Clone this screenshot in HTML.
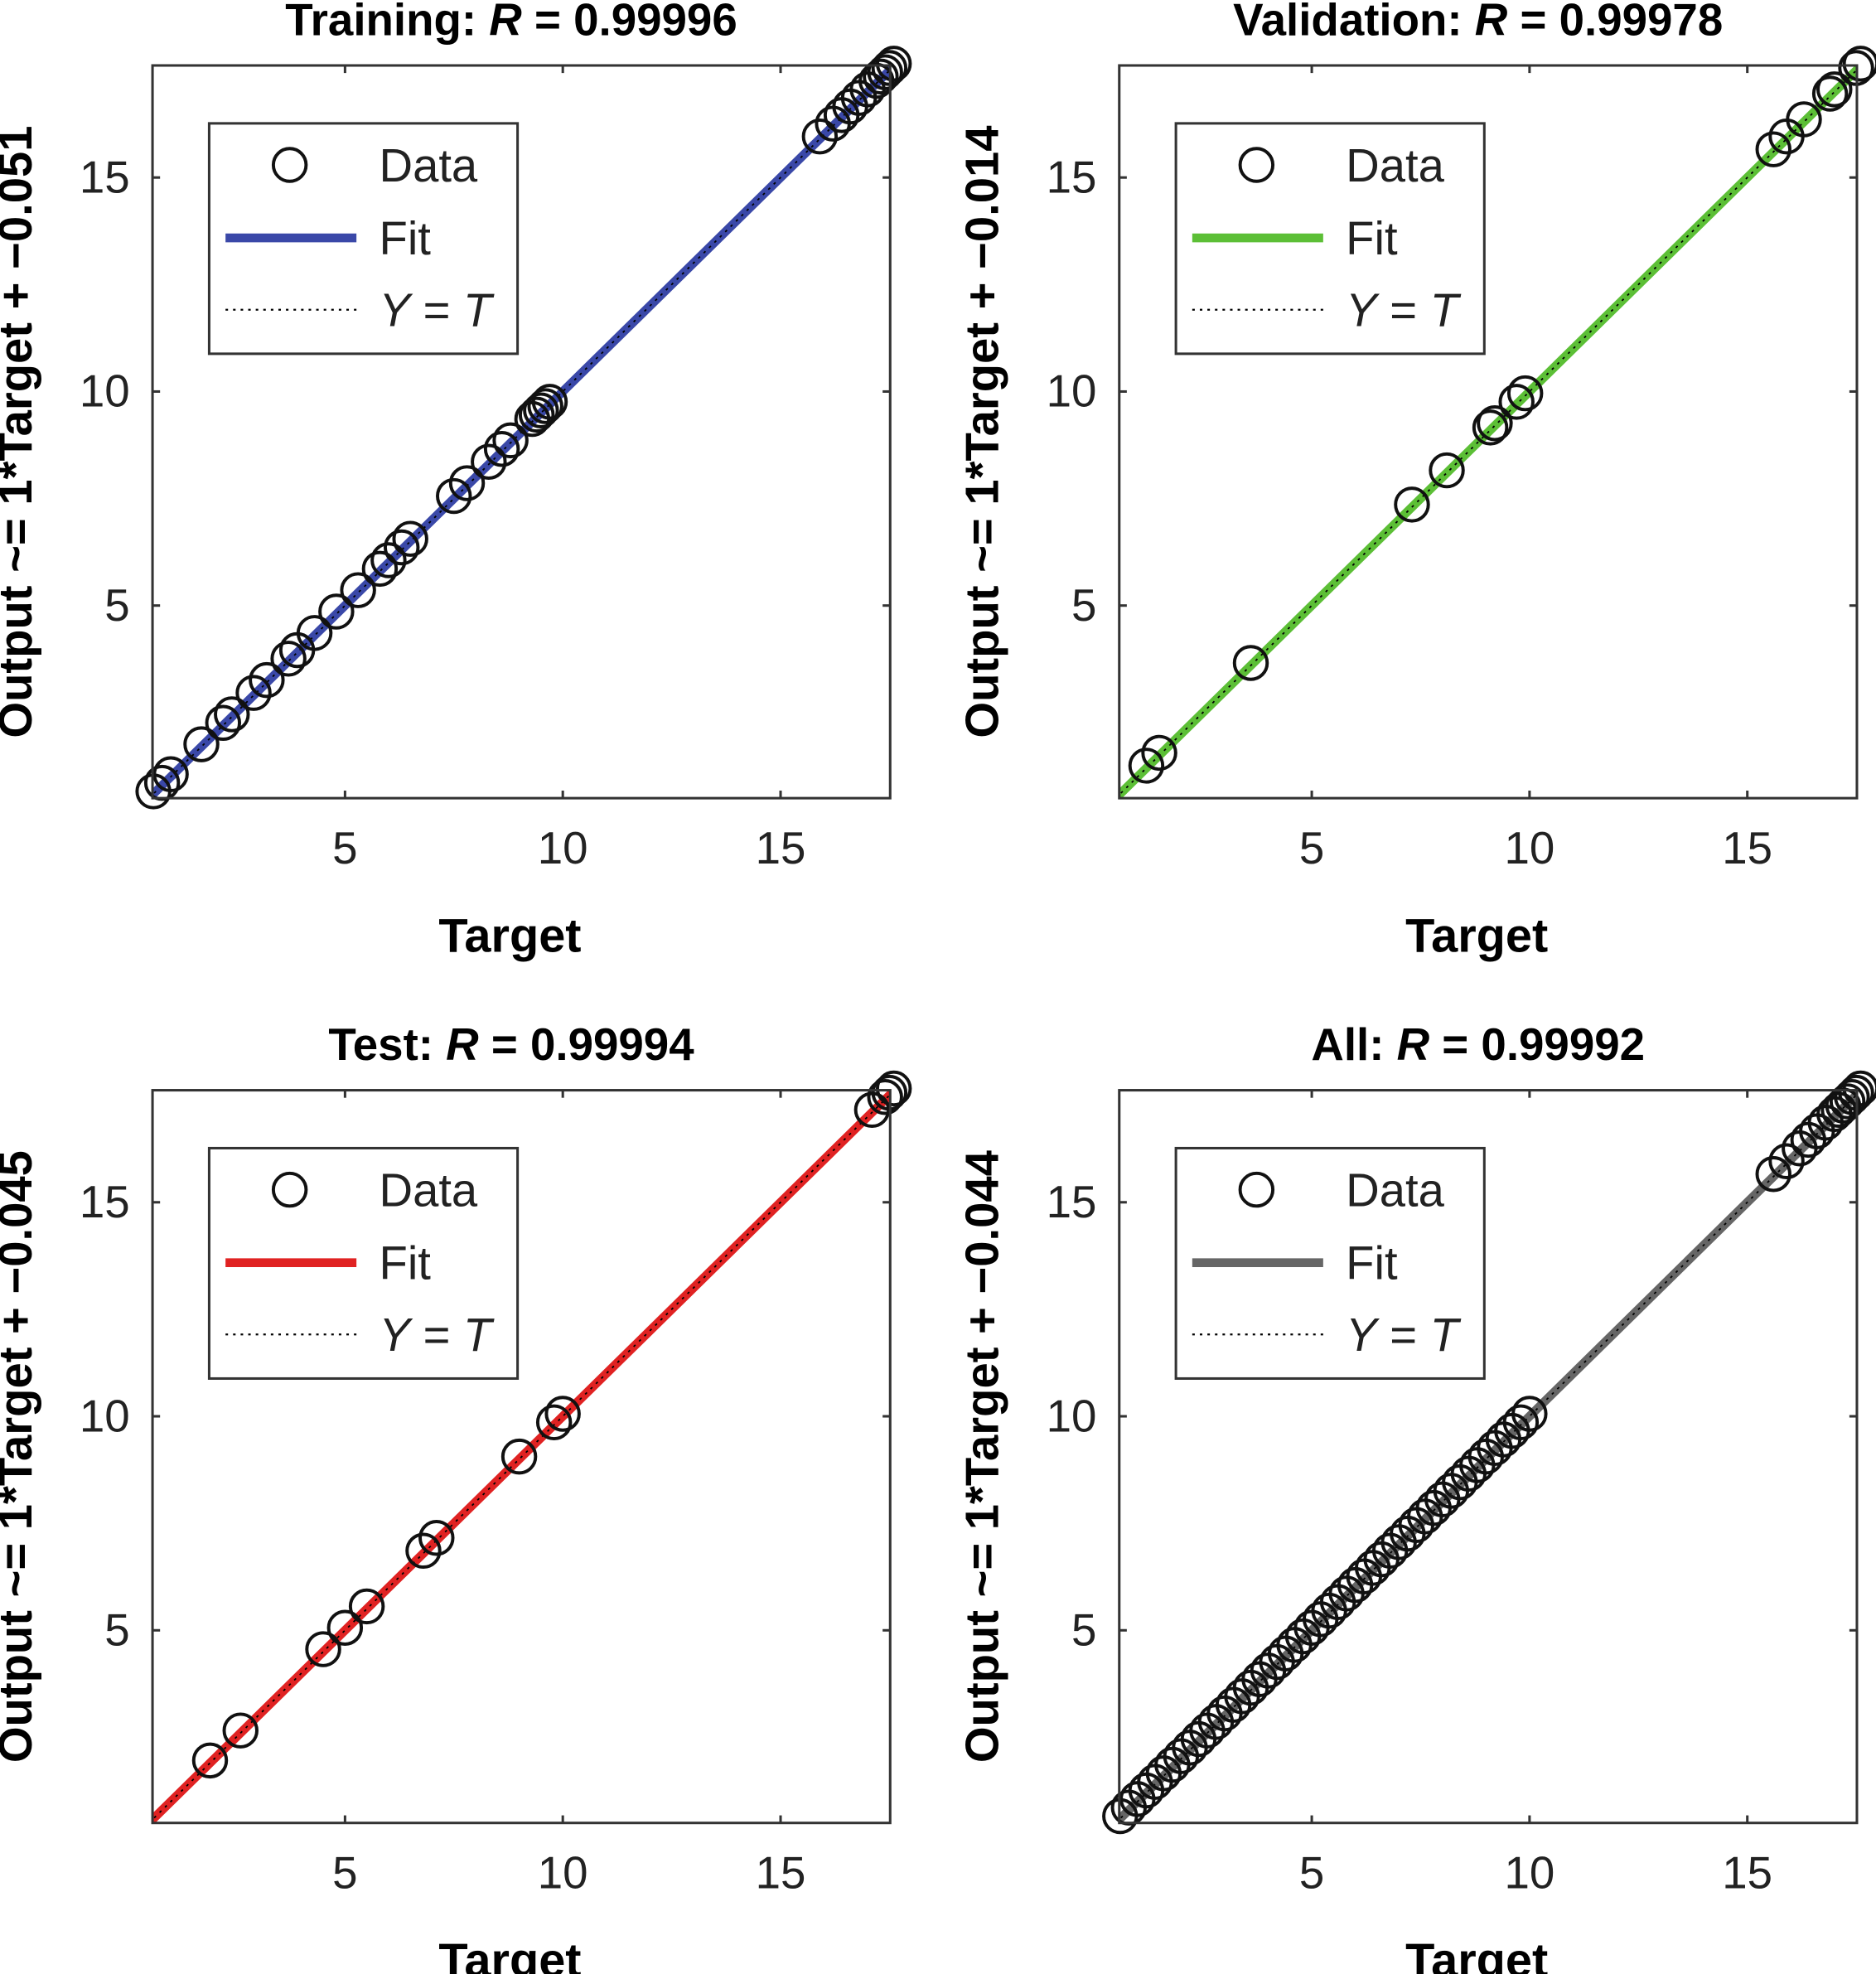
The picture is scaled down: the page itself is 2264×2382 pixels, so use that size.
<!DOCTYPE html>
<html><head><meta charset="utf-8"><style>
html,body{margin:0;padding:0;background:#fff;}
svg{display:block;}
</style></head><body>
<svg id="s" width="2264" height="2382" viewBox="0 0 1490 1568" xmlns="http://www.w3.org/2000/svg" font-family="Liberation Sans, Arial, sans-serif"></svg>
<script>
const S=document.getElementById('s');
let h='';
const panels=[
 {l:121,t:52,title:'Training',R:'0.99996',c:'#3a48a8',off:'0.051',
  pts:[0.6,0.8,1.0,1.7,2.2,2.4,2.9,3.2,3.7,3.9,4.3,4.8,5.3,5.8,6.0,6.3,6.5,7.5,7.8,8.3,8.6,8.8,9.3,9.4,9.5,9.6,9.7,15.9,16.2,16.4,16.6,16.8,17.0,17.2,17.3,17.4,17.5,17.6]},
 {l:889,t:52,title:'Validation',R:'0.99978',c:'#5cbf36',off:'0.014',
  pts:[1.2,1.5,3.6,7.3,8.1,9.1,9.2,9.7,9.9,15.6,15.9,16.3,16.9,17.0,17.5,17.6]},
 {l:121,t:866,title:'Test',R:'0.99994',c:'#e02222',off:'0.045',
  pts:[1.9,2.6,4.5,5.0,5.5,6.8,7.1,9.0,9.8,10.0,17.1,17.4,17.5,17.6]},
 {l:889,t:866,title:'All',R:'0.99992',c:'#666666',off:'0.044',pts:[]}
];
let all=[];for(let v=0.6;v<=10.0;v+=0.2)all.push(v);
[15.6,15.9,16.2,16.4,16.6,16.8,17.0,17.1,17.2,17.3,17.4,17.5,17.6].forEach(v=>all.push(v));
panels[3].pts=all;
panels.forEach(p=>{
 const L=p.l,T=p.t,W=586,H=582,B=T+H,Rr=L+W;
 const X=v=>L+(v-0.58)*34.6, Y=v=>B-(v-0.5)*34.0;
 const cx=L+W/2;
 h+=`<text x="${cx-8}" y="${T-24}" font-size="36" font-weight="bold" text-anchor="middle">${p.title}: <tspan font-style="italic">R</tspan> = ${p.R}</text>`;
 h+=`<defs><clipPath id="c${L}${T}"><rect x="${L}" y="${T}" width="${W}" height="${H}"/></clipPath></defs>`;
 h+=`<g clip-path="url(#c${L}${T})">`;
 h+=`<line x1="${X(0)}" y1="${Y(0)}" x2="${X(18)}" y2="${Y(18)}" stroke="${p.c}" stroke-width="7"/>`;
 h+=`<line x1="${X(0)}" y1="${Y(0)}" x2="${X(18)}" y2="${Y(18)}" stroke="#000" stroke-width="1.2" stroke-dasharray="2,4"/>`;
 h+=`</g>`;
 p.pts.forEach(v=>{h+=`<circle cx="${X(v).toFixed(1)}" cy="${(Y(v)-2).toFixed(1)}" r="13" fill="none" stroke="#111" stroke-width="2.6"/>`;});
 h+=`<rect x="${L}" y="${T}" width="${W}" height="${H}" fill="none" stroke="#333" stroke-width="2"/>`;
 [5,10,15].forEach(v=>{
  const x=X(v),y=Y(v);
  h+=`<line x1="${x}" y1="${B}" x2="${x}" y2="${B-6}" stroke="#333" stroke-width="2"/><line x1="${x}" y1="${T}" x2="${x}" y2="${T+6}" stroke="#333" stroke-width="2"/>`;
  h+=`<line x1="${L}" y1="${y}" x2="${L+6}" y2="${y}" stroke="#333" stroke-width="2"/><line x1="${Rr}" y1="${y}" x2="${Rr-6}" y2="${y}" stroke="#333" stroke-width="2"/>`;
  h+=`<text x="${x}" y="${B+52}" font-size="36" text-anchor="middle" fill="#222">${v}</text>`;
  h+=`<text x="${L-18}" y="${y+12}" font-size="36" text-anchor="end" fill="#222">${v}</text>`;
 });
 h+=`<text x="${cx-9}" y="${B+122}" font-size="38" font-weight="bold" text-anchor="middle">Target</text>`;
 const yl=L-106;
 h+=`<text transform="translate(${yl},${T+H/2}) rotate(-90)" x="0" y="0" font-size="37" font-weight="bold" text-anchor="middle" dominant-baseline="middle">Output ~= 1*Target + &#8722;${p.off}</text>`;
 const lx=L+45,ly=T+46;
 h+=`<rect x="${lx}" y="${ly}" width="245" height="183" fill="#fff" stroke="#333" stroke-width="2"/>`;
 h+=`<circle cx="${lx+64}" cy="${ly+33}" r="13" fill="none" stroke="#111" stroke-width="2.6"/>`;
 h+=`<text x="${lx+135}" y="${ly+46}" font-size="37" fill="#222">Data</text>`;
 h+=`<line x1="${lx+13}" y1="${ly+91}" x2="${lx+117}" y2="${ly+91}" stroke="${p.c}" stroke-width="7"/>`;
 h+=`<text x="${lx+135}" y="${ly+104}" font-size="37" fill="#222">Fit</text>`;
 h+=`<line x1="${lx+13}" y1="${ly+148}" x2="${lx+117}" y2="${ly+148}" stroke="#000" stroke-width="1.5" stroke-dasharray="2,4"/>`;
 h+=`<text x="${lx+135}" y="${ly+161}" font-size="37" fill="#222"><tspan font-style="italic">Y</tspan> = <tspan font-style="italic">T</tspan></text>`;
});
S.innerHTML=h;
</script>
</body></html>
